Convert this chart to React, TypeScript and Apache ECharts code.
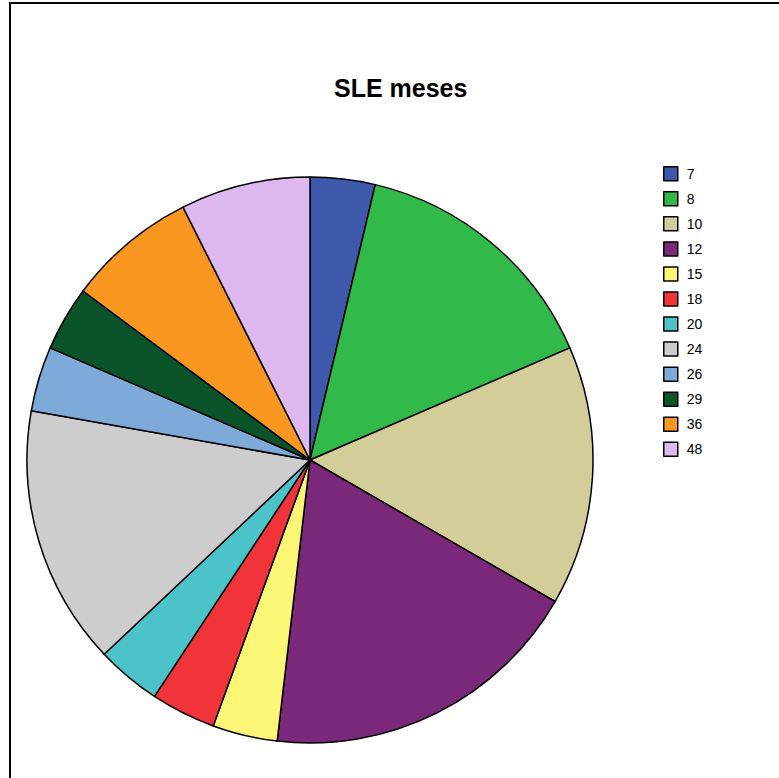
import React, { useEffect, useRef } from "react";
import * as echarts from "echarts";

const categories = ["7", "8", "10", "12", "15", "18", "20", "24", "26", "29", "36", "48"];
const counts = [1, 4, 4, 5, 1, 1, 1, 4, 1, 1, 2, 2];
const colors = [
  "#3E58AC", "#31B94A", "#D3CD99", "#7A2879", "#FBF675", "#F1343A",
  "#4CC3C8", "#CDCDCD", "#7DAAD8", "#0B542A", "#F99721", "#DDB9F0",
];
const titleText = "SLE meses";

export default function App() {
  const ref = useRef<HTMLDivElement>(null);
  useEffect(() => {
    if (!ref.current) return;
    const chart = echarts.init(ref.current, null, { renderer: "svg" });
    chart.setOption({
      animation: false,
      backgroundColor: "#fff",
      color: colors,
      title: {
        text: titleText,
        left: 329,
        top: 70,
        textStyle: { fontFamily: "Liberation Sans, Arial, sans-serif", fontWeight: "bold", fontSize: 25, color: "#000" },
      },
      legend: {
        orient: "vertical",
        left: 658,
        top: 161,
        padding: 5,
        itemWidth: 14,
        itemHeight: 14,
        itemGap: 9.55,
        icon: "rect",
        data: categories,
        itemStyle: { borderColor: "#000", borderWidth: 1.5 },
        textStyle: { fontFamily: "Liberation Sans, Arial, sans-serif", fontSize: 14, lineHeight: 14, color: "#000", padding: [0, 0, 0, 4] },
      },
      graphic: [
        {
          type: "rect",
          shape: { x: 10, y: 3, width: 820, height: 820 },
          style: { fill: "none", stroke: "#000", lineWidth: 2 },
          silent: true,
        },
      ],
      series: [
        {
          type: "pie",
          center: [310, 460],
          radius: 283,
          startAngle: 90,
          clockwise: true,
          label: { show: false },
          labelLine: { show: false },
          emphasis: { disabled: true },
          itemStyle: { borderColor: "#000", borderWidth: 1.5 },
          data: categories.map((c, i) => ({ name: c, value: counts[i] })),
        },
      ],
    });
    return () => chart.dispose();
  }, []);
  return <div ref={ref} style={{ position: "fixed", left: 0, top: 0, width: 779, height: 778 }} />;
}
